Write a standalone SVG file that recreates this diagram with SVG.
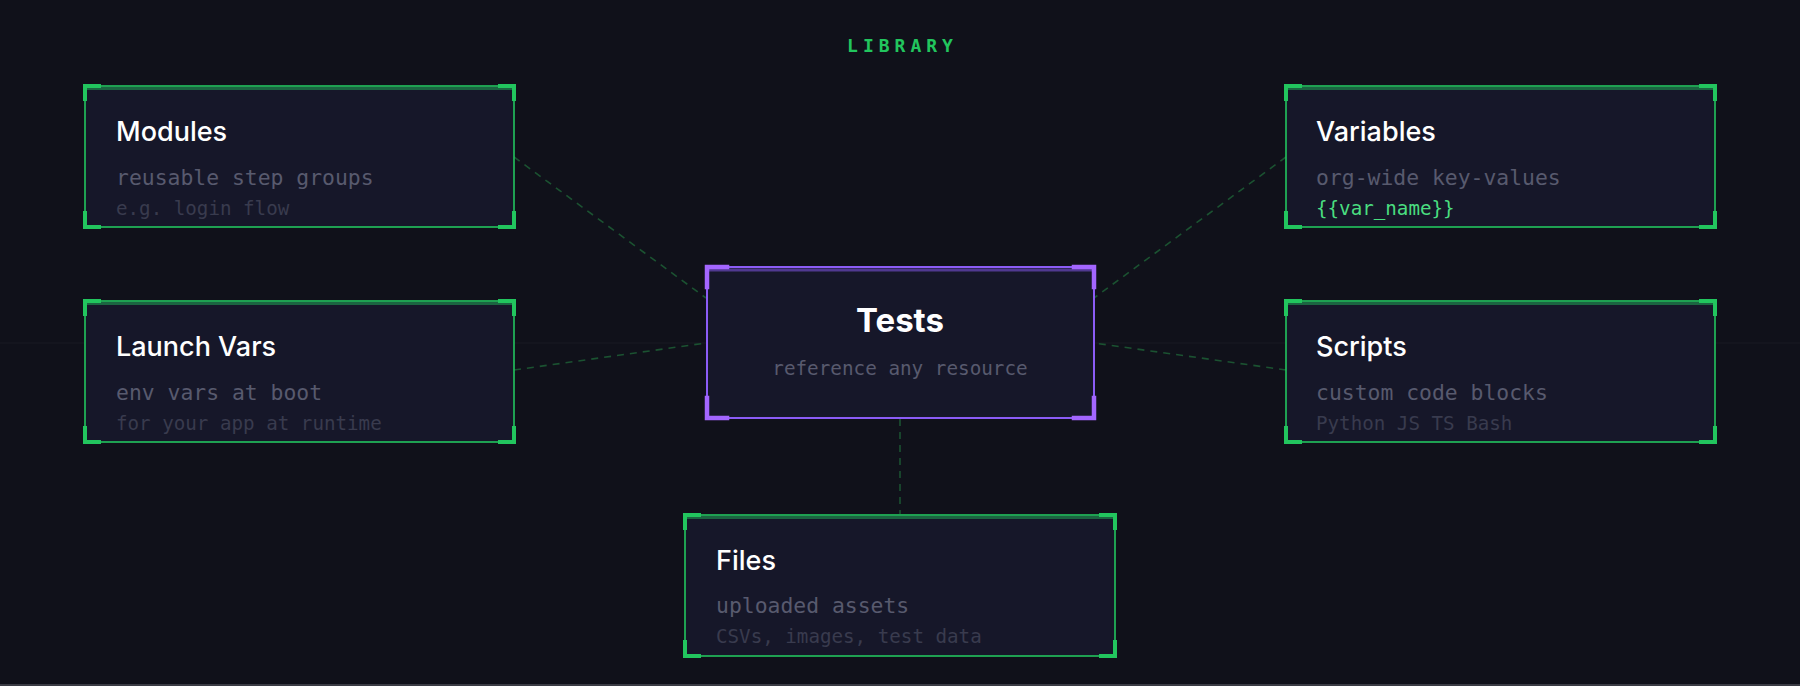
<svg xmlns="http://www.w3.org/2000/svg" width="1800" height="686" viewBox="0 0 1800 686">
<defs>
<style>
.bg{fill:#10111a}
.box{fill:#161729;stroke:#22c55e;stroke-width:1.6}
.topband{stroke:#22c55e;stroke-width:3;opacity:0.45}
.corner{fill:none;stroke:#22c55e;stroke-width:4;stroke-linecap:square}
.tbox{fill:#161729;stroke:#8b5cf6;stroke-width:2}
.tband{stroke:#8b5cf6;stroke-width:3;opacity:0.5}
.tcorner{fill:none;stroke:#a366ff;stroke-width:4.5;stroke-linecap:square}
.title{font-family:Inter,"Noto Sans","Liberation Sans",sans-serif;font-weight:500;font-size:27px;fill:#ffffff}
.ttitle{font-family:Inter,"Noto Sans","Liberation Sans",sans-serif;font-weight:700;font-size:33px;fill:#ffffff}
.sub{font-family:"DejaVu Sans Mono","Liberation Mono",monospace;font-size:21.4px;fill:#585a6e}
.note{font-family:"DejaVu Sans Mono","Liberation Mono",monospace;font-size:19.2px;fill:#393b4e}
.tsub{font-family:"DejaVu Sans Mono","Liberation Mono",monospace;font-size:19.3px;fill:#585a6e}
.code{font-family:"DejaVu Sans Mono","Liberation Mono",monospace;font-size:19.2px;fill:#4ade80}
.hdr{font-family:"DejaVu Sans Mono","Liberation Mono",monospace;font-weight:700;font-size:18px;fill:#22c55e;letter-spacing:5px}
.conn{fill:none;stroke:#1b5231;stroke-width:1.6;stroke-dasharray:7 6}
</style>
</defs>
<rect class="bg" x="0" y="0" width="1800" height="686"/>
<line x1="0" y1="343" x2="1800" y2="343" stroke="#161720" stroke-width="1.5"/>
<rect x="0" y="684" width="1800" height="2" fill="#3a3b44"/>

<text class="hdr" x="902.5" y="52" text-anchor="middle">LIBRARY</text>

<g id="connectors">
<line class="conn" x1="514" y1="157" x2="706" y2="298"/>
<line class="conn" x1="514" y1="370" x2="706" y2="343"/>
<line class="conn" x1="1286" y1="157" x2="1094" y2="298"/>
<line class="conn" x1="1286" y1="370" x2="1094" y2="343"/>
<line class="conn" x1="900" y1="419" x2="900" y2="514"/>
</g>

<g id="modules">
<rect class="box" x="85" y="86" width="429" height="141"/>
<line class="topband" x1="86" y1="88.5" x2="513" y2="88.5"/>
<path class="corner" d="M85 99V86H99M500 86H514V99M514 213V227H500M99 227H85V213"/>
<text class="title" x="116" y="141">Modules</text>
<text class="sub" x="116" y="185">reusable step groups</text>
<text class="note" x="116" y="215">e.g. login flow</text>
</g>

<g id="launch-vars">
<rect class="box" x="85" y="301" width="429" height="141"/>
<line class="topband" x1="86" y1="303.5" x2="513" y2="303.5"/>
<path class="corner" d="M85 314V301H99M500 301H514V314M514 428V442H500M99 442H85V428"/>
<text class="title" x="116" y="356">Launch Vars</text>
<text class="sub" x="116" y="400">env vars at boot</text>
<text class="note" x="116" y="430">for your app at runtime</text>
</g>

<g id="variables">
<rect class="box" x="1286" y="86" width="429" height="141"/>
<line class="topband" x1="1287" y1="88.5" x2="1714" y2="88.5"/>
<path class="corner" d="M1286 99V86H1300M1701 86H1715V99M1715 213V227H1701M1300 227H1286V213"/>
<text class="title" x="1316" y="141">Variables</text>
<text class="sub" x="1316" y="185">org-wide key-values</text>
<text class="code" x="1316" y="215">{{var_name}}</text>
</g>

<g id="scripts">
<rect class="box" x="1286" y="301" width="429" height="141"/>
<line class="topband" x1="1287" y1="303.5" x2="1714" y2="303.5"/>
<path class="corner" d="M1286 314V301H1300M1701 301H1715V314M1715 428V442H1701M1300 442H1286V428"/>
<text class="title" x="1316" y="356">Scripts</text>
<text class="sub" x="1316" y="400">custom code blocks</text>
<text class="note" x="1316" y="430">Python JS TS Bash</text>
</g>

<g id="tests">
<rect class="tbox" x="707" y="267" width="387" height="151"/>
<line class="tband" x1="708" y1="270" x2="1093" y2="270"/>
<path class="tcorner" d="M707 287V267H727M1074 267H1094V287M1094 398V418H1074M727 418H707V398"/>
<text class="ttitle" x="900" y="332" text-anchor="middle">Tests</text>
<text class="tsub" x="900" y="375" text-anchor="middle">reference any resource</text>
</g>

<g id="files">
<rect class="box" x="685" y="515" width="430" height="141"/>
<line class="topband" x1="686" y1="517.5" x2="1114" y2="517.5"/>
<path class="corner" d="M685 528V515H699M1101 515H1115V528M1115 642V656H1101M699 656H685V642"/>
<text class="title" x="716" y="570">Files</text>
<text class="sub" x="716" y="613">uploaded assets</text>
<text class="note" x="716" y="643">CSVs, images, test data</text>
</g>
</svg>
